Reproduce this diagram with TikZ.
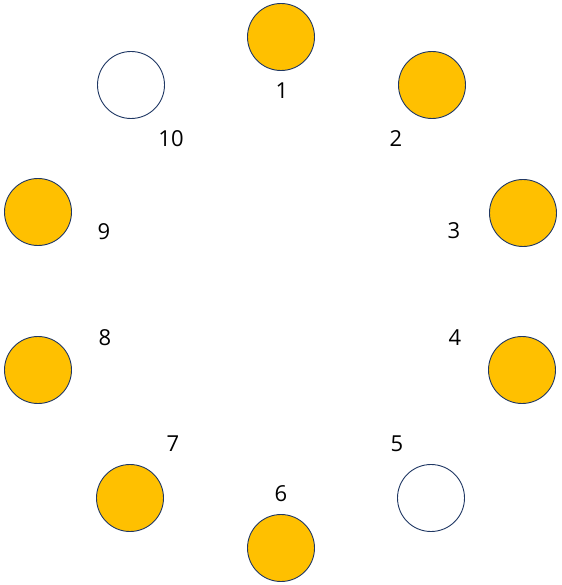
\documentclass[tikz,border=0pt]{standalone}
\usepackage{fontspec}
\setmainfont{Open Sans}
\definecolor{seatgold}{HTML}{FFC000}
\definecolor{seatedge}{HTML}{203864}
\begin{document}
\begin{tikzpicture}[x=1pt, y=-1pt,
    seat/.style={circle, draw=seatedge, line width=0.9pt, minimum size=67pt, inner sep=0pt},
    taken/.style={seat, fill=seatgold},
    free/.style={seat, fill=white},
    numlbl/.style={font=\fontsize{22}{24}\selectfont, inner sep=0pt}
]
\useasboundingbox (0,0) rectangle (561,585);

%  -- Seats around the table --
\node[taken] (s1)  at (281, 37)  {};
\node[taken] (s2)  at (432, 85)  {};
\node[taken] (s3)  at (523, 213) {};
\node[taken] (s4)  at (522, 370) {};
\node[free]  (s5)  at (431, 498) {};
\node[taken] (s6)  at (281, 548) {};
\node[taken] (s7)  at (130, 498) {};
\node[taken] (s8)  at (38, 370)  {};
\node[taken] (s9)  at (38, 212)  {};
\node[free]  (s10) at (131, 85)  {};

%  -- Seat numbers --
\node[numlbl] (n1)  at (282, 91)  {1};
\node[numlbl] (n2)  at (396, 139) {2};
\node[numlbl] (n3)  at (454, 231) {3};
\node[numlbl] (n4)  at (455, 338) {4};
\node[numlbl] (n5)  at (397, 444) {5};
\node[numlbl] (n6)  at (281, 494) {6};
\node[numlbl] (n7)  at (173, 444) {7};
\node[numlbl] (n8)  at (105, 338) {8};
\node[numlbl] (n9)  at (104, 232) {9};
\node[numlbl] (n10) at (171, 139) {10};

\end{tikzpicture}
\end{document}
